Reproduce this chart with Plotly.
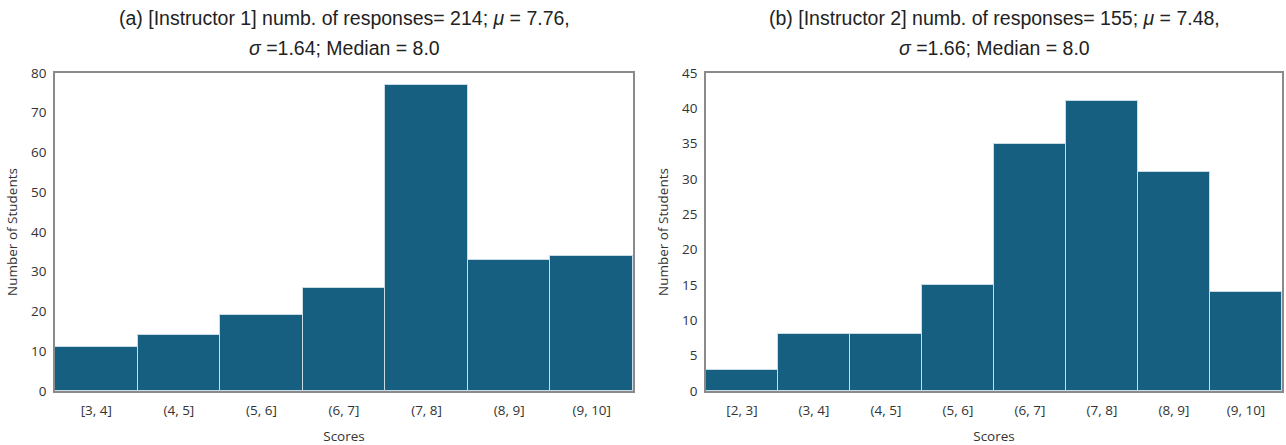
import plotly.graph_objects as go

cats_a = ["[3, 4]", "(4, 5]", "(5, 6]", "(6, 7]", "(7, 8]", "(8, 9]", "(9, 10]"]
vals_a = [11, 14, 19, 26, 77, 33, 34]
cats_b = ["[2, 3]", "(3, 4]", "(4, 5]", "(5, 6]", "(6, 7]", "(7, 8]", "(8, 9]", "(9, 10]"]
vals_b = [3, 8, 8, 15, 35, 41, 31, 14]

title_a = ["(a) [Instructor 1] numb. of responses= 214; <i>μ</i> = 7.76,",
           "<i>σ</i> =1.64; Median = 8.0"]
title_b = ["(b) [Instructor 2] numb. of responses= 155; <i>μ</i> = 7.48,",
           "<i>σ</i> =1.66; Median = 8.0"]

BAR = "#175f81"
W, H = 1286, 445
tickfont = dict(family="Open Sans, Noto Sans, sans-serif", size=13.5, color="#333")
labfont = dict(family="Open Sans, Noto Sans, sans-serif", size=13.5, color="#333")
titlefont = dict(family="Liberation Sans Narrow, Liberation Sans, Arial, sans-serif", size=19.5, color="#222")

fig = go.Figure()
fig.add_trace(go.Bar(x=cats_a, y=vals_a, marker=dict(color=BAR, line=dict(color="#c9dbe4", width=1)),
                     xaxis="x", yaxis="y", showlegend=False))
fig.add_trace(go.Bar(x=cats_b, y=vals_b, marker=dict(color=BAR, line=dict(color="#c9dbe4", width=1)),
                     xaxis="x2", yaxis="y2", showlegend=False))

ytop = 1 - 73 / H
ybot = 1 - 391 / H
dom_a = [55 / W, 633 / W]
dom_b = [706 / W, 1282 / W]

common_x = dict(showgrid=False, ticks="", tickfont=tickfont, showline=True, linecolor="#8a8a8a",
                linewidth=1.5, mirror=True, zeroline=False, automargin=False, ticklabelstandoff=6)
common_y = dict(showgrid=False, ticks="", tickfont=tickfont, showline=True, linecolor="#8a8a8a",
                linewidth=1.5, mirror=True, zeroline=False, automargin=False, ticklabelstandoff=4)

fig.update_layout(
    width=W, height=H,
    margin=dict(l=0, r=0, t=0, b=0, autoexpand=False),
    paper_bgcolor="white", plot_bgcolor="white",
    bargap=0,
    xaxis=dict(domain=dom_a, anchor="y", **common_x,
               title=dict(text="Scores", font=labfont, standoff=18)),
    yaxis=dict(domain=[ybot, ytop], anchor="x", range=[0, 80], dtick=10, **common_y,
               title=dict(text="Number of Students", font=labfont, standoff=10)),
    xaxis2=dict(domain=dom_b, anchor="y2", **common_x,
                title=dict(text="Scores", font=labfont, standoff=18)),
    yaxis2=dict(domain=[ybot, ytop], anchor="x2", range=[0, 45], dtick=5, **common_y,
                title=dict(text="Number of Students", font=labfont, standoff=10)),
)

for dom, lines in ((dom_a, title_a), (dom_b, title_b)):
    cx = (dom[0] + dom[1]) / 2
    for i, line in enumerate(lines):
        fig.add_annotation(text=line, x=cx, y=1 - (18 + 30 * i) / H, xref="paper", yref="paper",
                           xanchor="center", yanchor="middle", showarrow=False, font=titlefont)

fig.write_html("out.html", config={"displayModeBar": False},
               post_script="document.body.style.margin='0';document.body.style.overflow='hidden';")
